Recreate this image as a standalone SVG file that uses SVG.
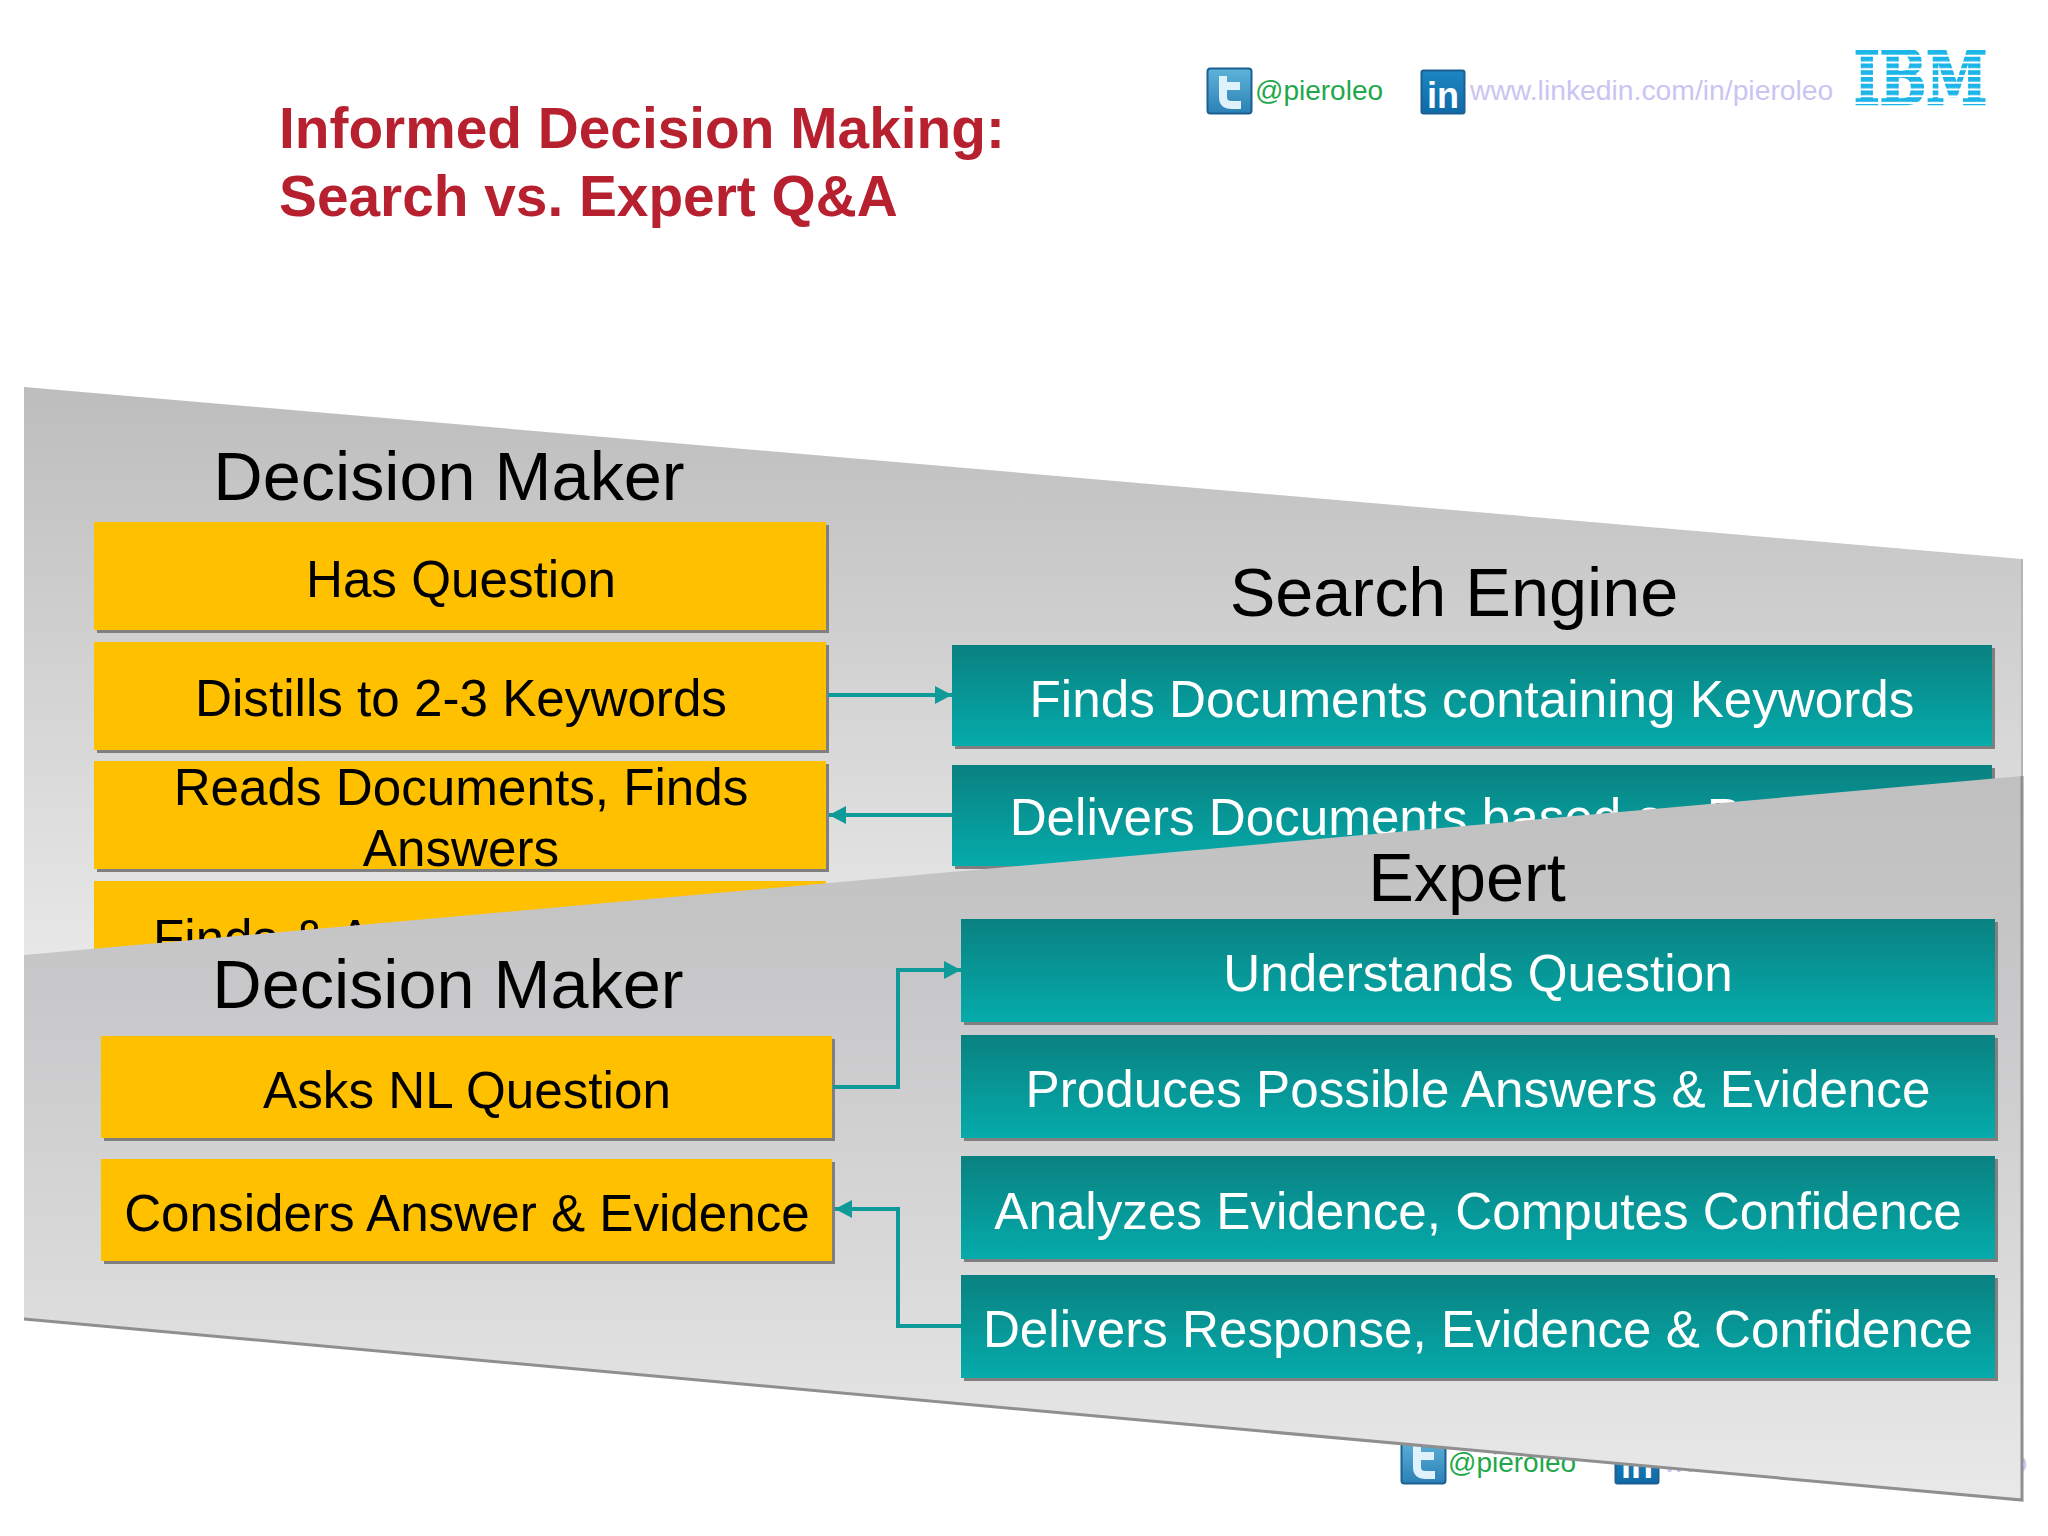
<svg xmlns="http://www.w3.org/2000/svg" width="2048" height="1536" viewBox="0 0 2048 1536">
<style>
text{font-family:"Liberation Sans",Arial,sans-serif}
.hd{font-size:68.4px;fill:#000;text-anchor:middle}
.by{font-size:51.2px;fill:#000;text-anchor:middle}
.bt{font-size:51.2px;fill:#fff;text-anchor:middle}
.title{font-size:56.8px;font-weight:bold;fill:#b7202e}
.tw{font-size:28px;fill:#1fa84a}
.li{font-size:28.3px;fill:#c9c5f2}
.y{fill:#ffc000}
.t{fill:url(#teal)}
.sh{fill:#7f7f7f}
.conn{fill:none;stroke:#0f9a9a;stroke-width:4}
</style>
<defs>
<linearGradient id="teal" x1="0" y1="0" x2="0" y2="1"><stop offset="0" stop-color="#0a8181"/><stop offset="1" stop-color="#05abab"/></linearGradient>
<linearGradient id="p1" gradientUnits="userSpaceOnUse" x1="0" y1="387" x2="0" y2="960"><stop offset="0" stop-color="#bdbdbd"/><stop offset="1" stop-color="#e8e8e8"/></linearGradient>
<linearGradient id="p2" gradientUnits="userSpaceOnUse" x1="0" y1="776" x2="0" y2="1500"><stop offset="0" stop-color="#c0c0c0"/><stop offset=".3" stop-color="#c8c7c9"/><stop offset="1" stop-color="#e9e9e9"/></linearGradient>
<linearGradient id="twg" x1="0" y1="0" x2="0" y2="1"><stop offset="0" stop-color="#5fb4d9"/><stop offset="1" stop-color="#2b80b6"/></linearGradient>
<linearGradient id="ling" x1="0" y1="0" x2="0" y2="1"><stop offset="0" stop-color="#1d86c2"/><stop offset="1" stop-color="#0f6aa6"/></linearGradient>
<pattern id="stripes" patternUnits="userSpaceOnUse" x="0" y="50" width="10" height="6.75"><rect width="10" height="4.6" fill="#1bb5e8"/></pattern>
<marker id="arr" markerUnits="userSpaceOnUse" markerWidth="17" markerHeight="18" refX="17" refY="9" orient="auto"><path d="M0 0L17 9L0 18z" fill="#0f9a9a"/></marker>
<g id="twIcon"><rect x="0.5" y="0.5" width="44" height="45" rx="3" fill="url(#twg)" stroke="#1c5f93" stroke-width="2"/><path d="M16 8V29Q16 37 25 37H34M16 18H33" fill="none" stroke="#dff1fa" stroke-width="8"/></g>
<g id="liIcon"><rect x="0.5" y="0.5" width="43" height="43" rx="2" fill="url(#ling)" stroke="#1c5f93" stroke-width="2"/><text x="22" y="38" font-size="36" font-weight="bold" fill="#fff" text-anchor="middle">in</text></g>
</defs>
<rect width="2048" height="1536" fill="#fff"/>

<g id="header">
<text class="title" x="279" y="148">Informed Decision Making:</text>
<text class="title" x="279" y="216">Search vs. Expert Q&amp;A</text>
<use href="#twIcon" x="1207" y="68"/>
<text class="tw" x="1255" y="100">@pieroleo</text>
<use href="#liIcon" x="1421" y="70"/>
<text class="li" x="1470" y="100">www.linkedin.com/in/pieroleo</text>
<text x="1854" y="104" font-size="74" font-weight="bold" fill="url(#stripes)" stroke="url(#stripes)" stroke-width="2.5" style="font-family:'DejaVu Serif',serif" textLength="133" lengthAdjust="spacingAndGlyphs">IBM</text>
</g>

<g id="footer-social">
<use href="#twIcon" x="1401" y="1438"/>
<text class="tw" x="1448" y="1472">@pieroleo</text>
<use href="#liIcon" x="1615" y="1440"/>
<text class="li" x="1664" y="1472">www.linkedin.com/in/pieroleo</text>
</g>

<g id="panel-search">
<path d="M24 387L2022 559V1000H24Z" fill="url(#p1)"/>
<path d="M2022 559V800" fill="none" stroke="#b5b5b5" stroke-width="2"/>
<text class="hd" x="449" y="500">Decision Maker</text>
<text class="hd" x="1454" y="616">Search Engine</text>
</g>
<g id="s-has-question"><rect class="sh" x="97" y="525" width="732" height="108"/><rect class="y" x="94" y="522" width="732" height="108"/><text class="by" x="461" y="597">Has Question</text></g>
<g id="s-distills"><rect class="sh" x="97" y="645" width="732" height="108"/><rect class="y" x="94" y="642" width="732" height="108"/><text class="by" x="461" y="716">Distills to 2-3 Keywords</text></g>
<g id="s-reads"><rect class="sh" x="97" y="764" width="732" height="108"/><rect class="y" x="94" y="761" width="732" height="108"/><text class="by" x="461" y="805">Reads Documents, Finds</text><text class="by" x="461" y="866">Answers</text></g>
<g id="s-finds"><rect class="y" x="94" y="881" width="732" height="109"/><text x="153" y="956" font-size="51.2" fill="#000">Finds &amp; A</text></g>
<g id="s-finds-docs"><rect class="sh" x="955" y="648" width="1040" height="101"/><rect class="t" x="952" y="645" width="1040" height="101"/><text class="bt" x="1472" y="717">Finds Documents containing Keywords</text></g>
<g id="s-delivers"><rect class="sh" x="955" y="768" width="1040" height="101"/><rect class="t" x="952" y="765" width="1040" height="101"/><text class="bt" x="1472" y="835">Delivers Documents based on Popularity</text></g>

<g id="panel-expert">
<path d="M24 955L2022 776V1500L24 1319Z" fill="url(#p2)"/>
<path d="M2022 776V1500L24 1319" fill="none" stroke="#8f8f8f" stroke-width="3"/>
<text class="hd" x="448" y="1008">Decision Maker</text>
<text class="hd" x="1467" y="901">Expert</text>
</g>
<g id="e-asks"><rect class="sh" x="104" y="1039" width="731" height="102"/><rect class="y" x="101" y="1036" width="731" height="102"/><text class="by" x="467" y="1108">Asks NL Question</text></g>
<g id="e-considers"><rect class="sh" x="104" y="1162" width="731" height="102"/><rect class="y" x="101" y="1159" width="731" height="102"/><text class="by" x="467" y="1231">Considers Answer &amp; Evidence</text></g>
<g id="e-understands"><rect class="sh" x="964" y="922" width="1034" height="103"/><rect class="t" x="961" y="919" width="1034" height="103"/><text class="bt" x="1478" y="991">Understands Question</text></g>
<g id="e-produces"><rect class="sh" x="964" y="1038" width="1034" height="103"/><rect class="t" x="961" y="1035" width="1034" height="103"/><text class="bt" x="1478" y="1107">Produces Possible Answers &amp; Evidence</text></g>
<g id="e-analyzes"><rect class="sh" x="964" y="1159" width="1034" height="103"/><rect class="t" x="961" y="1156" width="1034" height="103"/><text class="bt" x="1478" y="1229">Analyzes Evidence, Computes Confidence</text></g>
<g id="e-delivers"><rect class="sh" x="964" y="1278" width="1034" height="103"/><rect class="t" x="961" y="1275" width="1034" height="103"/><text class="bt" x="1478" y="1347">Delivers Response, Evidence &amp; Confidence</text></g>

<g id="connectors">
<path class="conn" d="M828 695H952" marker-end="url(#arr)"/>
<path class="conn" d="M952 815H829" marker-end="url(#arr)"/>
<path class="conn" d="M833 1087H898V970H961" marker-end="url(#arr)"/>
<path class="conn" d="M961 1326H898V1209H835" marker-end="url(#arr)"/>
</g>
</svg>
